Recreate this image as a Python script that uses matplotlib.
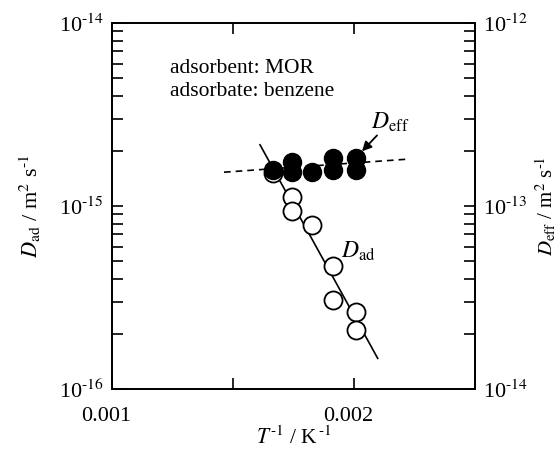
import matplotlib
matplotlib.use("Agg")
import matplotlib.pyplot as plt
from matplotlib.ticker import FixedLocator, NullFormatter, FixedFormatter
from matplotlib.transforms import ScaledTranslation
import numpy as np

plt.rcParams["font.family"] = ["Liberation Serif", "DejaVu Serif"]
plt.rcParams["mathtext.fontset"] = "stix"

HY = "\u2010"  # short hyphen used in exponents

# Inverse temperature (1/K)
inv_T_ad = [0.001667, 0.001745, 0.001745, 0.001825, 0.001912, 0.001912, 0.002008, 0.002008]
# Adsorbed-phase diffusivity D_ad (m^2/s), left axis
D_ad = [1.51e-15, 1.125e-15, 9.4e-16, 7.86e-16, 4.7e-16, 3.06e-16, 2.65e-16, 2.1e-16]

inv_T_eff = [0.001667, 0.001745, 0.001745, 0.001825, 0.001912, 0.001912, 0.002008, 0.002008]
# Effective diffusivity D_eff (m^2/s), right axis
D_eff = [1.574e-13, 1.75e-13, 1.54e-13, 1.54e-13, 1.82e-13, 1.57e-13, 1.82e-13, 1.57e-13]

# Arrhenius fit lines (endpoints)
fit_ad_x = [0.0016116, 0.0020979]
fit_ad_y = [2.16e-15, 1.47e-16]
fit_eff_x = [0.0014628, 0.0022149]
fit_eff_y = [1.53e-13, 1.80e-13]

x_ticks = [0.001, 0.0015, 0.002, 0.0025]
x_tick_labels = ["0.001", "", "0.002", ""]
left_ticks = [1e-16, 1e-15, 1e-14]
left_exps = ["16", "15", "14"]
right_ticks = [1e-14, 1e-13, 1e-12]
right_exps = ["14", "13", "12"]


def pow10(e):
    return "10$^{" + HY + e + "}$"


fig = plt.figure(figsize=(5.58, 4.5), dpi=100)
ax = fig.add_axes([0.2007, 0.1356, 0.6506, 0.8133])
ax2 = ax.twinx()

ax.set_xlim(0.001, 0.0025)
ax.set_yscale("log")
ax.set_ylim(1e-16, 1e-14)
ax2.set_yscale("log")
ax2.set_ylim(1e-14, 1e-12)

lw = 1.2
ax.plot(fit_ad_x, fit_ad_y, color="black", lw=lw, zorder=2)
ax.plot(inv_T_ad, D_ad, "o", ms=13, mfc="white", mec="black", mew=1.3, zorder=3)
ax2.plot(fit_eff_x, fit_eff_y, color="black", lw=lw, ls=(0, (4, 3)), zorder=2)
ax2.plot(inv_T_eff, D_eff, "o", ms=13, mfc="black", mec="black", zorder=4)

for a in (ax, ax2):
    for s in a.spines.values():
        s.set_linewidth(1.3)

ax.xaxis.set_major_locator(FixedLocator(x_ticks))
ax.xaxis.set_major_formatter(FixedFormatter(x_tick_labels))
ax.tick_params(axis="x", which="both", direction="in", top=True, length=8, width=1.2,
               labelsize=16, pad=13)
for lbl in ax.get_xticklabels():
    lbl.set_transform(lbl.get_transform() + ScaledTranslation(-6 / 100, 0, fig.dpi_scale_trans))

ax.tick_params(axis="y", which="both", direction="in", left=True, right=False,
               length=8, width=1.2, labelsize=16, pad=6)
ax2.tick_params(axis="y", which="both", direction="in", left=False, right=True,
                length=8, width=1.2, labelsize=16, pad=6)

for a, tks, exps in ((ax, left_ticks, left_exps), (ax2, right_ticks, right_exps)):
    a.yaxis.set_major_locator(FixedLocator(tks))
    a.yaxis.set_major_formatter(FixedFormatter([pow10(e) for e in exps]))
    lo, hi = a.get_ylim()
    minors = [m * 10.0 ** e for e in range(int(round(np.log10(lo))), int(round(np.log10(hi))))
              for m in range(2, 10)]
    a.yaxis.set_minor_locator(FixedLocator(minors))
    a.yaxis.set_minor_formatter(NullFormatter())

inv_unit = "$^{\\," + HY + "1}$"
ax.set_xlabel("$T$" + inv_unit + " / K" + inv_unit, fontsize=15.5, labelpad=0)
ax.set_ylabel("$D_{\\mathrm{ad}}$ / m$^{2}$ s$^{" + HY + "1}$", fontsize=16)
ax2.set_ylabel("$D_{\\mathrm{eff}}$ / m$^{2}$ s$^{" + HY + "1}$", fontsize=15)
ax.yaxis.set_label_coords(-0.19, 0.5)
ax2.yaxis.set_label_coords(1.163, 0.5)

ax.text(0.16, 0.877, "adsorbent: MOR", transform=ax.transAxes, fontsize=15.5, va="center")
ax.text(0.16, 0.812, "adsorbate: benzene", transform=ax.transAxes, fontsize=15.5, va="center")

ax2.annotate("", xy=(0.002033, 1.99e-13), xytext=(0.002095, 2.43e-13),
             arrowprops=dict(arrowstyle="-|>", color="black", lw=1.3,
                             mutation_scale=14, shrinkA=0, shrinkB=0), zorder=5)
ax2.text(0.002149, 2.87e-13, "$D_{\\mathrm{eff}}$", fontsize=17, ha="center", va="center")
ax.text(0.002017, 5.65e-16, "$D_{\\mathrm{ad}}$", fontsize=17, ha="center", va="center")

fig.savefig("out.png", dpi=100)
